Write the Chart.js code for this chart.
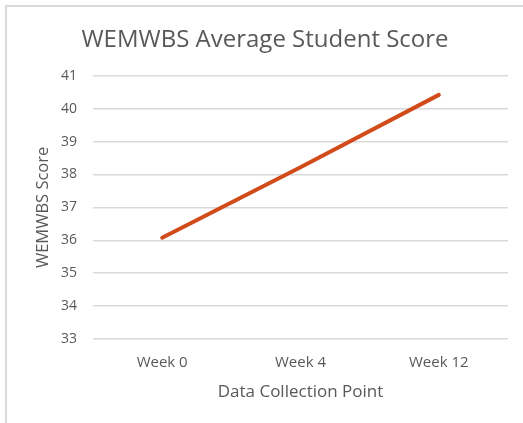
<!DOCTYPE html>
<html lang="en">
<head>
    <meta charset="UTF-8">
    <title>WEMWBS Average Student Score</title>
    <script src="https://cdn.jsdelivr.net/npm/chart.js"></script>
    <style>
        body {
            margin: 0;
            background: #fff;
        }

        /* светлая рамка слева и сверху */
        .frame {
            position: absolute;
            left: 5px;
            top: 5px;
            width: 530px;
            height: 430px;
            border-left: 2px solid #d9d9d9;
            border-top: 2px solid #d9d9d9;
        }

        .chart-container {
            position: absolute;
            left: 0;
            top: 0;
            width: 523px;
            height: 423px;
        }
    </style>
</head>
<body>
<div class="frame"></div>
<div class="chart-container">
    <canvas id="chart1"></canvas>
</div>

<script>
    // Данные графика
    const weeks = ['Week 0', 'Week 4', 'Week 12'];
    const scores = [36.08, 38.22, 40.42];
    const yTicks = [33, 34, 35, 36, 37, 38, 39, 40, 41];

    const textColor = '#595959';
    const fontName = "'Open Sans', sans-serif";

    const ctx = document.getElementById('chart1').getContext('2d');
    const chart = new Chart(ctx, {
        type: 'line',
        data: {
            labels: weeks,
            datasets: [{
                label: 'WEMWBS Score',
                data: scores,
                borderColor: '#d14b1b',
                backgroundColor: '#d14b1b',
                borderWidth: 4,
                borderCapStyle: 'round',
                pointRadius: 0,
                fill: false,
                tension: 0
            }]
        },
        options: {
            responsive: true,
            maintainAspectRatio: false,
            animation: false,
            layout: {
                padding: {left: 22, right: 15, top: 0, bottom: 0}
            },
            plugins: {
                legend: {display: false},
                tooltip: {enabled: false},
                title: {
                    display: true,
                    text: 'WEMWBS Average Student Score',
                    color: textColor,
                    font: {family: fontName, size: 24, weight: 'normal'},
                    padding: {top: 26, bottom: 21}
                }
            },
            scales: {
                x: {
                    offset: true,
                    grid: {display: false, drawTicks: false},
                    border: {display: false},
                    ticks: {
                        color: textColor,
                        font: {family: fontName, size: 15},
                        padding: 15
                    },
                    title: {
                        display: true,
                        text: 'Data Collection Point',
                        color: textColor,
                        font: {family: fontName, size: 17},
                        padding: {top: 0, bottom: 21}
                    },
                    afterFit: scale => {
                        scale.height = 84;
                    }
                },
                y: {
                    min: yTicks[0],
                    max: yTicks[yTicks.length - 1],
                    afterBuildTicks: scale => {
                        scale.ticks = yTicks.map(v => ({value: v}));
                    },
                    grid: {
                        color: '#d9d9d9',
                        lineWidth: 1.5,
                        drawTicks: false
                    },
                    border: {display: false},
                    ticks: {
                        color: textColor,
                        font: {family: fontName, size: 14},
                        padding: 16
                    },
                    title: {
                        display: true,
                        text: 'WEMWBS Score',
                        color: textColor,
                        font: {family: fontName, size: 16.5},
                        padding: {top: 11, bottom: 0}
                    },
                    afterFit: scale => {
                        scale.width = 71;
                    }
                }
            }
        }
    });
</script>
</body>
</html>
